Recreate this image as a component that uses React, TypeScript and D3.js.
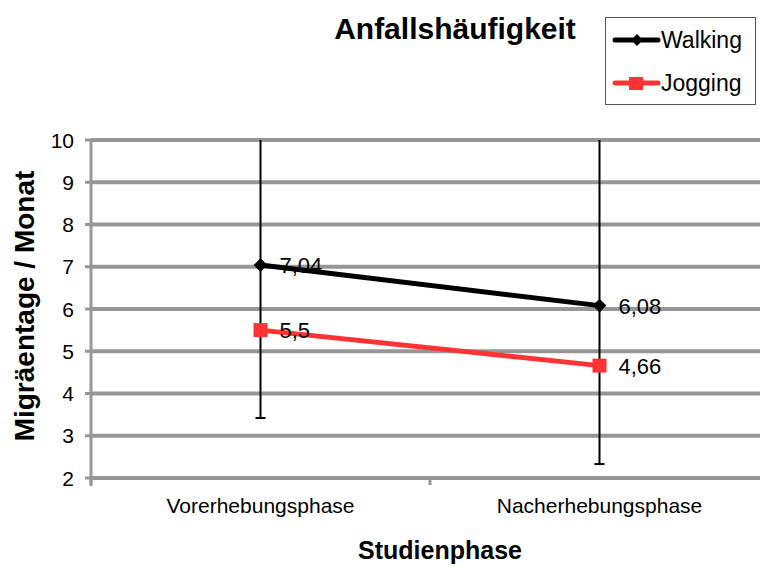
import React from "react";
import * as d3 from "d3";

const categories = ["Vorerhebungsphase", "Nacherhebungsphase"];
const walking = [7.04, 6.08];
const jogging = [5.5, 4.66];
const walkingLabels = ["7,04", "6,08"];
const joggingLabels = ["5,5", "4,66"];
const errLow = [3.42, 2.33];
const errHigh = [10.6, 10.2];
const yTicks = [2, 3, 4, 5, 6, 7, 8, 9, 10];

const W = 760, H = 566;
const left = 91, top = 140, bottom = 478;
const bandW = 339;

export default function App() {
  const x = d3.scaleBand<string>().domain(categories).range([left, left + bandW * 2]);
  const cx = (c: string) => (x(c) as number) + x.bandwidth() / 2;
  const y = d3.scaleLinear().domain([2, 10]).range([bottom, top]);
  const yc = (v: number) => y(Math.max(2, Math.min(10, v)));
  const line = d3.line<number>().x((_, i) => cx(categories[i])).y((v) => y(v));
  const font = "'Liberation Sans', Arial, sans-serif";
  const grid = "#969696";
  return (
    <svg width={W} height={H} style={{ position: "absolute", left: 0, top: 0, background: "#fff" }} fontFamily={font}>
      {/* gridlines */}
      {yTicks.map((t) => (
        <g key={t}>
          <line x1={left} x2={W} y1={y(t)} y2={y(t)} stroke={grid} strokeWidth={4} />
          <line x1={left - 6} x2={left} y1={y(t)} y2={y(t)} stroke={grid} strokeWidth={3} />
          <text x={74} y={y(t)} dy="0.36em" textAnchor="end" fontSize={21} fill="#000">{t}</text>
        </g>
      ))}
      {/* axes */}
      <line x1={left} x2={left} y1={top - 1} y2={bottom + 8} stroke={grid} strokeWidth={3} />
      <line x1={left} x2={W} y1={bottom} y2={bottom} stroke={grid} strokeWidth={4} />
      {[0, 1, 2].map((i) => (
        <line key={i} x1={left + i * bandW} x2={left + i * bandW} y1={bottom} y2={bottom + 7} stroke={grid} strokeWidth={3} />
      ))}
      {/* error bars */}
      {categories.map((c, i) => (
        <g key={c}>
          <line x1={cx(c)} x2={cx(c)} y1={yc(errHigh[i])} y2={yc(errLow[i])} stroke="#000" strokeWidth={2} />
          <line x1={cx(c) - 5} x2={cx(c) + 5} y1={yc(errLow[i])} y2={yc(errLow[i])} stroke="#000" strokeWidth={2} />
        </g>
      ))}
      {/* lines */}
      <path d={line(walking) as string} fill="none" stroke="#000" strokeWidth={5} />
      <path d={line(jogging) as string} fill="none" stroke="#FF3333" strokeWidth={5} />
      {walking.map((v, i) => (
        <path key={i} d={d3.symbol(d3.symbolDiamond2, 120)() as string} transform={`translate(${cx(categories[i])},${y(v)})`} fill="#000" />
      ))}
      {jogging.map((v, i) => (
        <rect key={i} x={cx(categories[i]) - 7} y={y(v) - 7} width={14} height={14} fill="#FF3333" />
      ))}
      {/* data labels */}
      {walking.map((v, i) => (
        <text key={i} x={cx(categories[i]) + 19} y={y(v)} dy="0.36em" fontSize={22} fill="#000">{walkingLabels[i]}</text>
      ))}
      {jogging.map((v, i) => (
        <text key={i} x={cx(categories[i]) + 19} y={y(v)} dy="0.36em" fontSize={22} fill="#000">{joggingLabels[i]}</text>
      ))}
      {/* x labels */}
      {categories.map((c) => (
        <text key={c} x={cx(c)} y={513} textAnchor="middle" fontSize={21} fill="#000">{c}</text>
      ))}
      <text x={440} y={559} textAnchor="middle" fontSize={25} fontWeight="bold" fill="#000">Studienphase</text>
      <text transform={`translate(34,306) rotate(-90)`} textAnchor="middle" fontSize={28} fontWeight="bold" fill="#000">Migräentage / Monat</text>
      <text x={455} y={39} textAnchor="middle" fontSize={30} fontWeight="bold" fill="#000">Anfallshäufigkeit</text>
      {/* legend */}
      <rect x={605.5} y={17.5} width={150} height={87} fill="#fff" stroke="#555" strokeWidth={1} />
      <line x1={615} x2={658} y1={40} y2={40} stroke="#000" strokeWidth={5} strokeLinecap="round" />
      <path d={d3.symbol(d3.symbolDiamond2, 90)() as string} transform="translate(637,40)" fill="#000" />
      <text x={661} y={48} fontSize={23} fill="#000">Walking</text>
      <line x1={615} x2={658} y1={83} y2={83} stroke="#FF3333" strokeWidth={5} strokeLinecap="round" />
      <rect x={629} y={77} width={14} height={13} fill="#FF3333" />
      <text x={661} y={91} fontSize={23} fill="#000">Jogging</text>
    </svg>
  );
}
